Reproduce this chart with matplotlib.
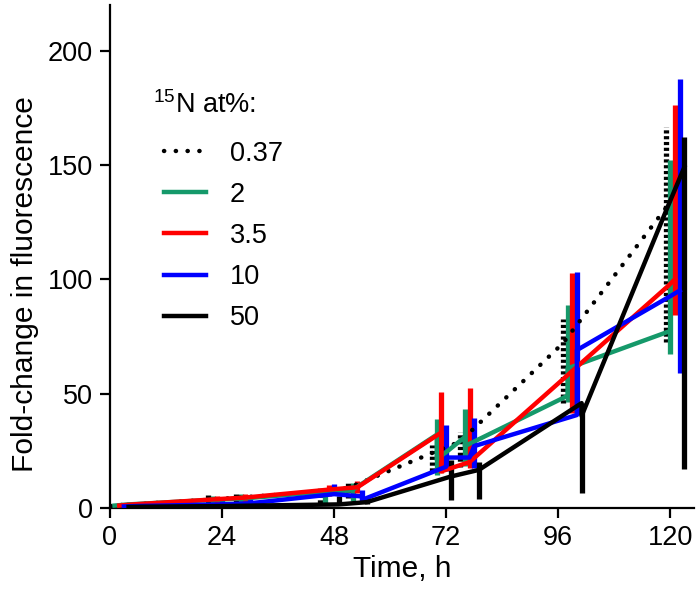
import matplotlib
matplotlib.use("Agg")
import matplotlib.pyplot as plt

plt.rcParams["font.family"] = ["Liberation Sans", "DejaVu Sans"]
plt.rcParams["mathtext.fontset"] = "custom"
plt.rcParams["mathtext.rm"] = "Liberation Sans"

# ── data ─────────────────────────────────────────────────────────────────────
labels = ["0.37", "2", "3.5", "10", "50"]
colors = ["black", "#15996a", "#ff0000", "#0000ff", "black"]

# polylines of each series (t in h, fold-change)
line_t_037 = [0, 3, 21, 27, 45, 51, 69, 75, 97, 119]
line_v_037 = [1.0, 1.3, 3.5, 4.4, 7.0, 8.7, 24, 29, 72, 131]
line_t_2 = [1, 4, 22, 28, 46, 46, 52, 70, 70, 76, 76, 98, 98, 119.5]
line_v_2 = [1.0, 1.5, 3.5, 4.0, 7.0, 6.3, 7.9, 32, 21, 31, 27, 49, 61, 77]
line_t_35 = [2, 5, 23, 29, 47, 53, 71, 71, 77, 119.5, 121]
line_v_35 = [1.0, 1.5, 3.8, 4.5, 8.0, 9.0, 33, 16, 20, 97, 100]
line_t_10 = [3, 6, 24, 30, 48, 54, 54, 72, 72, 77, 78, 100, 100, 119.5, 122]
line_v_10 = [0.6, 0.8, 1.5, 2.0, 6.0, 5.0, 3.5, 18, 22, 22, 27, 40.6, 69, 92, 95]
line_t_50 = [4, 7, 25, 31, 49, 55, 73, 79, 101, 101, 119.5, 123]
line_v_50 = [0.4, 0.5, 0.8, 1.0, 1.5, 2.5, 13.7, 16.6, 45.8, 40.2, 132, 149]

# error bars (x, lower end, upper end)
bar_t_037 = [0, 3, 21, 27, 45, 51, 69, 75, 97, 119]
bar_lo_037 = [0.3, 0.5, 1.5, 2.0, 2.0, 4.4, 15.9, 18.0, 45.7, 72.6]
bar_hi_037 = [2.0, 2.5, 5.5, 7.0, 9.3, 11.6, 27.5, 33.3, 82.5, 166.5]
bar_t_2 = [1, 4, 22, 28, 46, 52, 70, 76, 98, 120]
bar_lo_2 = [0.3, 0.5, 2.0, 2.0, 1.2, 3.0, 14.4, 18.3, 46.4, 67.5]
bar_hi_2 = [1.8, 2.5, 5.0, 6.0, 8.5, 10.9, 38.7, 43.1, 88.6, 152.3]
bar_t_35 = [2, 5, 23, 29, 47, 53, 71, 77, 99, 121]
bar_lo_35 = [0.3, 0.5, 2.0, 2.5, 5.0, 6.6, 15.1, 17.3, 41.3, 84.3]
bar_hi_35 = [1.8, 2.5, 5.0, 6.0, 10.0, 11.6, 50.5, 52.5, 102.5, 176.0]
bar_t_10 = [3, 6, 24, 30, 48, 54, 72, 78, 100, 122]
bar_lo_10 = [0.2, 0.3, 1.0, 1.5, 7.0, 3.0, 15.9, 17.3, 40.6, 58.8]
bar_hi_10 = [1.5, 2.0, 3.5, 4.0, 10.6, 8.0, 36.2, 39.2, 103.2, 187.6]
bar_t_50 = [4, 7, 25, 31, 49, 55, 73, 79, 101, 123]
bar_lo_50 = [0.1, 0.2, 0.5, 0.5, 1.7, 1.5, 3.5, 3.8, 6.4, 16.9]
bar_hi_50 = [1.2, 1.5, 2.5, 3.0, 5.3, 4.4, 21.0, 20.2, 46.0, 162.2]

lines = [(line_t_037, line_v_037), (line_t_2, line_v_2), (line_t_35, line_v_35),
         (line_t_10, line_v_10), (line_t_50, line_v_50)]
bars = [(bar_t_037, bar_lo_037, bar_hi_037), (bar_t_2, bar_lo_2, bar_hi_2),
        (bar_t_35, bar_lo_35, bar_hi_35), (bar_t_10, bar_lo_10, bar_hi_10),
        (bar_t_50, bar_lo_50, bar_hi_50)]

x_ticks = [0, 24, 48, 72, 96, 120]
y_ticks = [0, 50, 100, 150, 200]

# ── plot ─────────────────────────────────────────────────────────────────────
fig = plt.figure(figsize=(7.0, 6.01), dpi=100)
ax = fig.add_axes([0.157, 0.155, 0.834, 0.837])

dot_style = (0, (0.05, 2.6))
for i, ((bt, blo, bhi), c) in enumerate(zip(bars, colors)):
    ls = (0, (0.6, 0.5)) if i == 0 else "-"
    ax.vlines(bt, blo, bhi, colors=c, linewidth=3.8, linestyles=ls, zorder=2)

for i, ((lt, lv), c, lab) in enumerate(zip(lines, colors, labels)):
    if i == 0:
        ax.plot(lt, lv, color=c, linewidth=3.2, linestyle=dot_style,
                dash_capstyle="round", label=lab, zorder=3)
    else:
        ax.plot(lt, lv, color=c, linewidth=2.6, label=lab, zorder=3)

ax.set_xlim(0, 125)
ax.set_ylim(0, 220)
ax.set_xticks(x_ticks)
ax.set_yticks(y_ticks)
ax.tick_params(labelsize=19.5, width=1.6, length=7, direction="out", pad=5)
ax.spines["top"].set_visible(False)
ax.spines["right"].set_visible(False)
ax.spines["left"].set_linewidth(1.6)
ax.spines["bottom"].set_linewidth(1.6)

ax.set_xlabel("Time, h", fontsize=21.5, labelpad=3)
ax.set_ylabel("Fold-change in fluorescence", fontsize=21.5)
ax.yaxis.set_label_coords(-0.122, 0.445)

# legend title as separate text, entries below it
ax.text(0.074, 0.800, "$^{15}$N at%:", transform=ax.transAxes,
        fontsize=19.5, ha="left", va="center")

handles, hl = ax.get_legend_handles_labels()
for h in handles[1:]:
    h.set_linewidth(3.2)
leg = ax.legend(handles, hl, loc="upper left",
                bbox_to_anchor=(0.092, 0.730), frameon=False, fontsize=19.5,
                handlelength=1.55, labelspacing=0.56,
                handletextpad=0.9, borderpad=0, borderaxespad=0)

fig.savefig("out.png", dpi=100)
plt.close(fig)
